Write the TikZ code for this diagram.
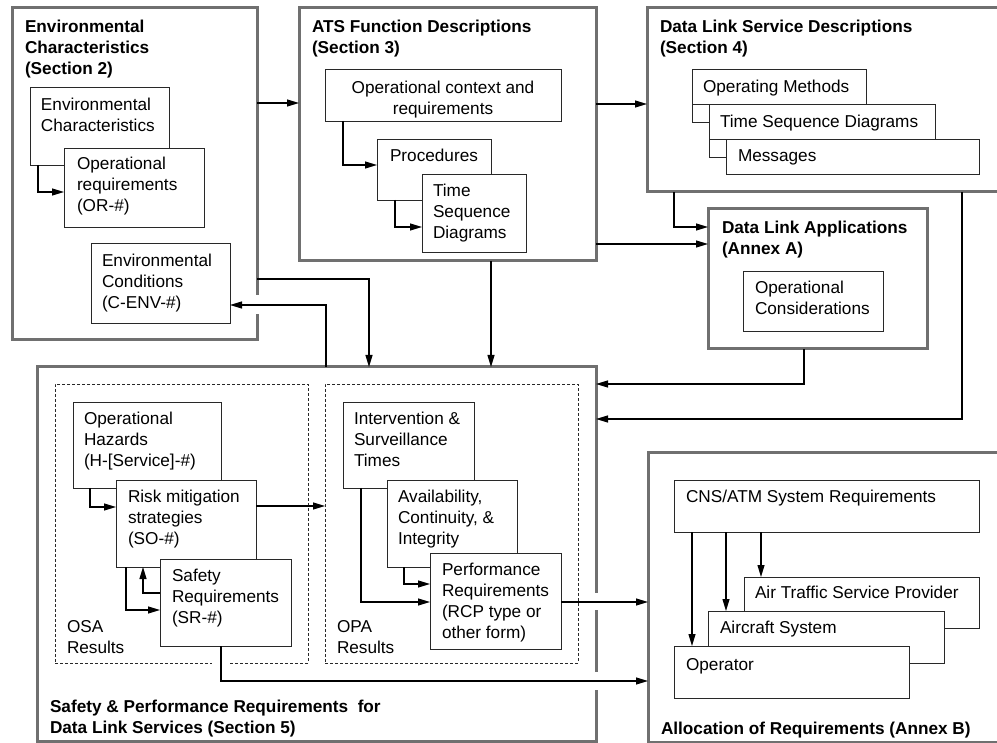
\documentclass[tikz,border=0pt]{standalone}
\usepackage{fontspec}
\setmainfont{Liberation Sans}
\usetikzlibrary{arrows.meta}
\definecolor{framegray}{RGB}{112,112,112}
\definecolor{boxline}{RGB}{40,40,40}
\tikzset{
  frame/.style={draw=framegray, line width=3pt, inner sep=0pt, outer sep=0pt, anchor=north west},
  box/.style={draw=boxline, line width=0.9pt, fill=white, inner sep=0pt, outer sep=0pt, anchor=north west},
  dbox/.style={draw=boxline, line width=0.8pt, dash pattern=on 3pt off 2pt, inner sep=0pt, outer sep=0pt, anchor=north west},
  txt/.style={font=\fontsize{17.2}{20.7}\selectfont, inner sep=0pt, outer sep=0pt, anchor=north west, align=left},
  ttl/.style={font=\fontsize{17.2}{21}\selectfont\bfseries, inner sep=0pt, outer sep=0pt, anchor=north west, align=left},
  arr/.style={draw=black, line width=1.1pt, -{Triangle[length=12pt,width=7pt]}},
  ln/.style={draw=boxline, line width=0.9pt},
}
\newcommand\lbl[5][txt]{\node[#1] (#2) at (#3,#4-14.5) {\strut #5};}
\newcommand\bxx[6][box]{\node[#1, minimum width=#5pt, minimum height=#6pt] (#2) at (#3,#4) {};}
\begin{document}
\begin{tikzpicture}[x=1pt,y=-1pt]
\useasboundingbox (0,0) rectangle (997,743);
% ---------- outer frames ----------
\bxx[frame]{env}{12}{8}{245}{332}
\bxx[frame]{ats}{299}{8}{297}{253}
\bxx[frame]{dls}{647}{8}{363}{184}
\bxx[frame]{dla}{708}{209}{219}{140}
\bxx[frame]{saf}{37}{367}{559}{374}
\bxx[frame]{alloc}{648}{453}{362}{289}
\lbl[ttl]{t-env}{25}{32}{Environmental\\Characteristics\\(Section 2)}
\lbl[ttl]{t-ats}{312}{32}{ATS Function Descriptions\\(Section 3)}
\lbl[ttl]{t-dls}{660}{32}{Data Link Service Descriptions\\(Section 4)}
\lbl[ttl]{t-dla}{722}{233}{Data Link Applications\\(Annex A)}
\lbl[ttl]{t-saf}{50}{712}{Safety \& Performance Requirements\ \ for\\Data Link Services (Section 5)}
\lbl[ttl]{t-alloc}{661}{734}{Allocation of Requirements (Annex B)}
% ---------- Section 2 ----------
\bxx{ec}{30}{87}{139}{78}
\lbl{t-ec}{41}{111}{Environmental\\Characteristics}
\bxx{orq}{64}{148}{140}{79}
\lbl{t-orq}{77}{170}{Operational\\requirements\\(OR-\#)}
\bxx{envc}{91}{243}{139}{80}
\lbl{t-envc}{102}{267}{Environmental\\Conditions\\(C-ENV-\#)}
% ---------- Section 3 ----------
\bxx{opctx}{325}{69}{236}{52}
\node[txt, anchor=north, align=center] (t-opctx) at (443,94-14.5) {\strut Operational context and\\requirements};
\bxx{proc}{377}{139}{114}{61}
\lbl{t-proc}{390}{162}{Procedures}
\bxx{tsd}{422}{174}{104}{78}
\lbl{t-tsd}{433}{197}{Time\\Sequence\\Diagrams}
% ---------- Section 4 ----------
\bxx{om}{692}{69}{174}{35}
\lbl{t-om}{703}{93}{Operating Methods}
\bxx{tsdb}{709}{104}{226}{35}
\lbl{t-tsdb}{720}{128}{Time Sequence Diagrams}
\bxx{msg}{726}{139}{253}{35}
\lbl{t-msg}{738}{162}{Messages}
% ---------- Annex A ----------
\bxx{oc}{743}{271}{140}{60}
\lbl{t-oc}{755}{294}{Operational\\Considerations}
% ---------- Section 5 ----------
\bxx[dbox]{osa}{55}{384}{253}{279}
\bxx[dbox]{opa}{325}{384}{253}{279}
\lbl{t-osa}{67}{633}{OSA\\Results}
\lbl{t-opa}{337}{633}{OPA\\Results}
\bxx{oh}{73}{402}{148}{86}
\lbl{t-oh}{84}{425}{Operational\\Hazards\\(H-[Service]-\#)}
\bxx{rm}{116}{480}{140}{87}
\lbl{t-rm}{128}{503}{Risk mitigation\\strategies\\(SO-\#)}
\bxx{sr}{160}{559}{131}{87}
\lbl{t-sr}{172}{582}{Safety\\Requirements\\(SR-\#)}
\bxx{ist}{343}{402}{131}{86}
\lbl{t-ist}{354}{425}{Intervention \&\\Surveillance\\Times}
\bxx{aci}{387}{480}{130}{87}
\lbl{t-aci}{398}{503}{Availability,\\Continuity, \&\\Integrity}
\bxx{pr}{430}{553}{131}{96}
\lbl{t-pr}{442}{576}{Performance\\Requirements\\(RCP type or\\other form)}
% ---------- Annex B ----------
\bxx{cns}{674}{480}{305}{52}
\lbl{t-cns}{686}{503}{CNS/ATM System Requirements}
\bxx{atsp}{744}{577}{235}{51}
\lbl{t-atsp}{755}{599}{Air Traffic Service Provider}
\bxx{acs}{708}{611}{236}{52}
\lbl{t-acs}{720}{634}{Aircraft System}
\bxx{opr}{674}{646}{235}{52}
\lbl{t-opr}{686}{671}{Operator}
% ---------- gaps where connectors cross frames ----------
\fill[white] (253,295) rectangle (261,314);
\fill[white] (592,593) rectangle (600,610);
\fill[white] (592,672) rectangle (600,690);
\fill[white] (212,660) rectangle (230,666);
% ---------- connectors ----------
\draw[arr] ([yshift=-95pt]env.north east) -- ([yshift=-95pt]ats.north west);
\draw[arr] ([xshift=8pt]ec.south west) |- ([yshift=-44pt]orq.north west);
\draw[arr] ([yshift=-271pt]env.north east) -| ([xshift=332pt]saf.north west);
\draw[arr] ([xshift=289pt]saf.north west) |- ([yshift=-62pt]envc.north east);
\draw[arr] ([xshift=18pt]opctx.south west) |- ([yshift=-26pt]proc.north west);
\draw[arr] ([xshift=18pt]proc.south west) |- ([yshift=-53pt]tsd.north west);
\draw[arr] ([yshift=-96pt]ats.north east) -- ([yshift=-96pt]dls.north west);
\draw[arr] ([yshift=-236pt]ats.north east) -- ([yshift=-35pt]dla.north west);
\draw[arr] ([xshift=192pt]ats.south west) -- ([xshift=454pt]saf.north west);
\draw[ln] (om.south west) |- ([yshift=-18pt]tsdb.north west);
\draw[ln] (tsdb.south west) |- ([yshift=-18pt]msg.north west);
\draw[arr] ([xshift=27pt]dls.south west) |- ([yshift=-18pt]dla.north west);
\draw[arr] ([xshift=96pt]dla.south west) |- ([yshift=-17pt]saf.north east);
\draw[arr] ([xshift=315pt]dls.south west) |- ([yshift=-52pt]saf.north east);
\draw[arr] ([xshift=17pt]oh.south west) |- ([yshift=-27pt]rm.north west);
\draw[arr] ([xshift=10pt]rm.south west) |- ([yshift=-51pt]sr.north west);
\draw[arr] ([yshift=-34pt]sr.north west) -| ([xshift=27pt]rm.south west);
\draw[arr] ([yshift=-26pt]rm.north east) -- ([yshift=-122pt]opa.north west);
\draw[arr] ([xshift=61pt]sr.south west) |- ([yshift=-228pt]alloc.north west);
\draw[arr] ([xshift=18pt]ist.south west) |- ([yshift=-49pt]pr.north west);
\draw[arr] ([xshift=17pt]aci.south west) |- ([yshift=-31pt]pr.north west);
\draw[arr] ([yshift=-49pt]pr.north east) -- ([yshift=-149pt]alloc.north west);
\draw[arr] ([xshift=18pt]cns.south west) -- ([xshift=18pt]opr.north west);
\draw[arr] ([xshift=52pt]cns.south west) -- ([xshift=18pt]acs.north west);
\draw[arr] ([xshift=87pt]cns.south west) -- ([xshift=17pt]atsp.north west);
\end{tikzpicture}
\end{document}
